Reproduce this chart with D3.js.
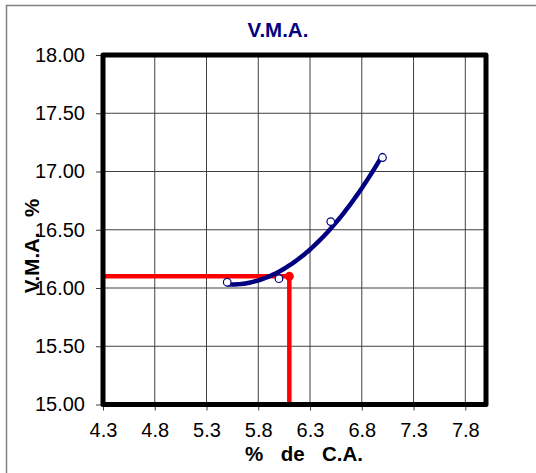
<!DOCTYPE html>
<html><head><meta charset="utf-8">
<script src="https://cdn.jsdelivr.net/npm/d3@7"></script>
<style>body{margin:0;background:#fff}svg{display:block}</style>
</head><body>
<svg id="c" width="536" height="473"></svg>
<script>
const xTicks = [4.3, 4.8, 5.3, 5.8, 6.3, 6.8, 7.3, 7.8];
const yTicks = [15.0, 15.5, 16.0, 16.5, 17.0, 17.5, 18.0];
const acX = [5.5, 6.0, 6.5, 7.0];
const vmaY = [16.05, 16.08, 16.57, 17.12];
const optimum = [6.1, 16.1];
const xDomain = [4.3, 8.0];
const yDomain = [15, 18];

const svg = d3.select("#c");
const L = 103, R = 486, T = 55, B = 404.5;
const x = d3.scaleLinear().domain(xDomain).range([L, R]);
const y = d3.scaleLinear().domain(yDomain).range([B, T]);
const font = "'Liberation Sans', Arial, sans-serif";

// outer frame
svg.append("rect").attr("x", 6.5).attr("y", 5.5).attr("width", 600).attr("height", 600)
  .attr("fill", "none").attr("stroke", "#808080").attr("stroke-width", 1.5);

// gridlines
const g = svg.append("g");
g.selectAll(".vx").data(xTicks).join("line")
  .attr("x1", d => x(d)).attr("x2", d => x(d)).attr("y1", T).attr("y2", B)
  .attr("stroke", "#404040").attr("stroke-width", 1);
g.selectAll(".hy").data(yTicks).join("line")
  .attr("y1", d => y(d)).attr("y2", d => y(d)).attr("x1", L).attr("x2", R)
  .attr("stroke", "#404040").attr("stroke-width", 1);

// axes
const xAxis = d3.axisBottom(x).tickValues(xTicks).tickFormat(d3.format(".1f")).tickSize(6).tickPadding(12);
const yAxis = d3.axisLeft(y).tickValues(yTicks).tickFormat(d3.format(".2f")).tickSize(7).tickPadding(11);
const gx = svg.append("g").attr("transform", `translate(0,${B})`).call(xAxis);
const gy = svg.append("g").attr("transform", `translate(${L},0)`).call(yAxis);
[gx, gy].forEach(a => {
  a.select(".domain").remove();
  a.selectAll(".tick line").attr("stroke", "#404040");
  a.selectAll(".tick text").attr("fill", "#000").style("font-family", font).style("font-size", "20px");
});

// red optimum lines
const red = "#ff0000";
svg.append("path")
  .attr("d", d3.line()([[x(xDomain[0]), y(optimum[1])], [x(optimum[0]), y(optimum[1])], [x(optimum[0]), y(yDomain[0])]]))
  .attr("fill", "none").attr("stroke", red).attr("stroke-width", 4.5);
svg.append("circle").attr("cx", x(optimum[0])).attr("cy", y(optimum[1])).attr("r", 4.5).attr("fill", red);

// quadratic least-squares trendline from data
function polyfit2(xs, ys) {
  const n = xs.length;
  let S = [0,0,0,0,0], Sy = [0,0,0];
  for (let i = 0; i < n; i++) {
    for (let k = 0; k < 5; k++) S[k] += Math.pow(xs[i], k);
    for (let k = 0; k < 3; k++) Sy[k] += ys[i] * Math.pow(xs[i], k);
  }
  const M = [[S[0],S[1],S[2],Sy[0]],[S[1],S[2],S[3],Sy[1]],[S[2],S[3],S[4],Sy[2]]];
  for (let i = 0; i < 3; i++) {
    for (let j = i + 1; j < 3; j++) {
      const f = M[j][i] / M[i][i];
      for (let k = i; k < 4; k++) M[j][k] -= f * M[i][k];
    }
  }
  const c = [0,0,0];
  for (let i = 2; i >= 0; i--) {
    let s = M[i][3];
    for (let k = i + 1; k < 3; k++) s -= M[i][k] * c[k];
    c[i] = s / M[i][i];
  }
  return c;
}
const coef = polyfit2(acX, vmaY);
const xs = d3.range(0, 61).map(i => acX[0] + (acX[acX.length-1] - acX[0]) * i / 60);
const trend = xs.map(v => [x(v), y(coef[0] + coef[1]*v + coef[2]*v*v)]);
svg.append("path").attr("d", d3.line().curve(d3.curveBasis)(trend))
  .attr("fill", "none").attr("stroke", "#000080").attr("stroke-width", 4.5)
  .attr("stroke-linecap", "round");

// markers
svg.selectAll(".pt").data(acX).join("circle")
  .attr("cx", (d) => x(d)).attr("cy", (d, i) => y(vmaY[i])).attr("r", 3.8)
  .attr("fill", "#fff").attr("stroke", "#000080").attr("stroke-width", 1.2);

// plot border
svg.append("rect").attr("x", L).attr("y", T).attr("width", R - L).attr("height", B - T)
  .attr("fill", "none").attr("stroke", "#000").attr("stroke-width", 5)
  .attr("stroke-linejoin", "round");

// title
svg.append("text").attr("x", 278).attr("y", 37).attr("text-anchor", "middle")
  .style("font-family", font).style("font-size", "20.5px").style("font-weight", "bold")
  .attr("fill", "#000080").text("V.M.A.");

// axis titles
svg.append("text").attr("x", 304).attr("y", 461).attr("text-anchor", "middle")
  .style("font-family", font).style("font-size", "20.5px").style("font-weight", "bold")
  .style("word-spacing", "3px")
  .attr("fill", "#000").style("white-space", "pre").text("%  de  C.A.");
svg.append("text").attr("transform", "translate(39,246) rotate(-90)").attr("text-anchor", "middle")
  .style("font-family", font).style("font-size", "20.5px").style("font-weight", "bold")
  .style("word-spacing", "2px")
  .attr("fill", "#000").style("white-space", "pre").text("V.M.A.  %");
</script>
</body></html>
